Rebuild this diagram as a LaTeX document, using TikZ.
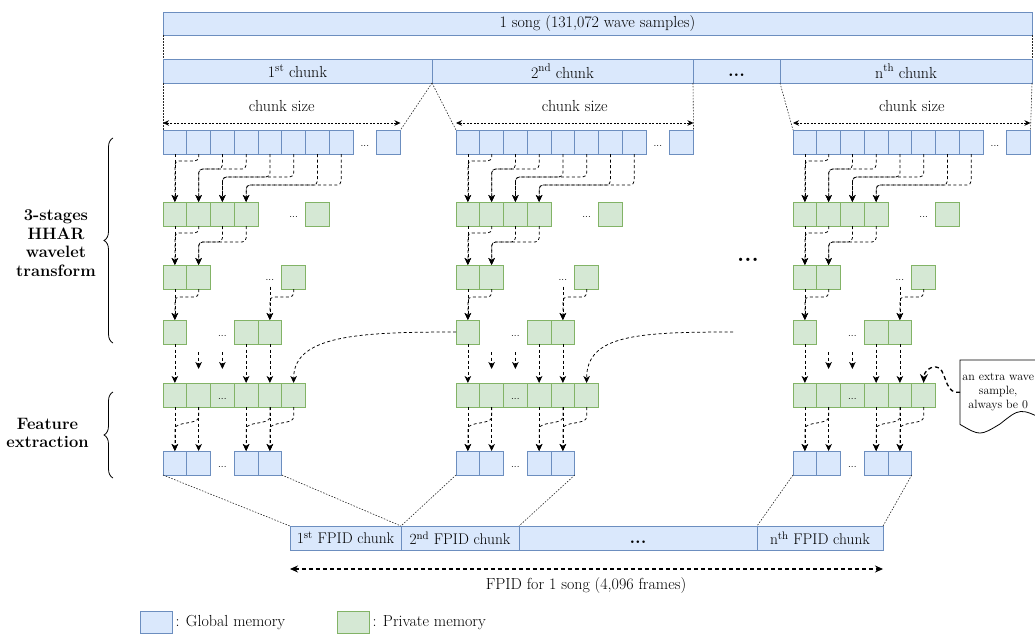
\documentclass[tikz,border=0pt]{standalone}
\usetikzlibrary{arrows.meta,calc,decorations.pathreplacing}
\definecolor{gfill}{HTML}{DAE8FC}
\definecolor{gline}{HTML}{6C8EBF}
\definecolor{pfill}{HTML}{D5E8D4}
\definecolor{pline}{HTML}{82B366}
\begin{document}
\begin{tikzpicture}[x=1pt,y=-1pt,
  every node/.style={font=\fontsize{16}{19}\selectfont},
  gbox/.style={draw=gline,fill=gfill,line width=0.8pt,minimum width=23.75pt,minimum height=24pt,inner sep=0pt,outer sep=0pt,anchor=north west},
  pbox/.style={gbox,draw=pline,fill=pfill},
  bar/.style={draw=gline,fill=gfill,line width=0.8pt,minimum height=23.5pt,inner sep=0pt,outer sep=0pt,anchor=north west},
  fbar/.style={bar,minimum height=24pt,font=\fontsize{15.5}{18}\selectfont},
  flow/.style={line width=0.75pt,dash pattern=on 3pt off 2.5pt,-{Stealth[length=7pt,width=6.5pt,inset=2pt]},rounded corners=4pt},
  guide/.style={draw=black!85,line width=0.6pt,dash pattern=on 1.5pt off 1.5pt},
  span/.style={line width=0.7pt,dash pattern=on 2pt off 1.5pt,{Stealth[length=6pt,width=5.5pt]}-{Stealth[length=6pt,width=5.5pt]}},
  sdots/.style={font=\fontsize{10}{10}\selectfont,inner sep=0pt},
  bdots/.style={font=\fontsize{18}{18}\selectfont\bfseries,inner sep=0pt},
  lab/.style={align=center,font=\fontsize{16.5}{18.5}\selectfont\bfseries},
]
\useasboundingbox (0,0) rectangle (1035,634);
\clip (0,0) rectangle (1035,634);

% top bars
\node[bar,minimum width=869pt] (song) at (163,12) {1 song (131,072 wave samples)};
\node[bar,minimum width=269pt] (ch1) at (163,59.5) {1\textsuperscript{st} chunk};
\node[bar,minimum width=261pt] (ch2) at (432,59.5) {2\textsuperscript{nd} chunk};
\node[bar,minimum width=87pt] (chd) at (693,59.5) {};
\node[bdots] (chdt) at ($(chd.center)+(0,4)$) {...};
\node[bar,minimum width=252pt] (chn) at (780,59.5) {n\textsuperscript{th} chunk};

% blocks
\foreach \ch/\xo in {1/163,2/456,3/793}{
  \foreach \kk in {0,...,7}{\node[gbox] (r1-\ch-\kk) at ({\xo+\kk*23.75},130) {};}
  \node[gbox] (r1-\ch-9) at ({\xo+9*23.75},130) {};
  \node[sdots] (r1-\ch-d) at ({\xo+8.5*23.75},146) {...};
  \foreach \kk in {0,...,3}{\node[pbox] (r2-\ch-\kk) at ({\xo+\kk*23.75},202) {};}
  \node[pbox] (r2-\ch-6) at ({\xo+6*23.75},202) {};
  \node[sdots] (r2-\ch-d) at ({\xo+5.5*23.75},217) {...};
  \foreach \kk in {0,1}{\node[pbox] (r3-\ch-\kk) at ({\xo+\kk*23.75},265) {};}
  \node[pbox] (r3-\ch-5) at ({\xo+5*23.75},265) {};
  \node[sdots] (r3-\ch-d) at ({\xo+4.5*23.75},280) {...};
  \node[pbox] (r4-\ch-0) at (\xo,320) {};
  \foreach \kk in {3,4}{\node[pbox] (r4-\ch-\kk) at ({\xo+\kk*23.75},320) {};}
  \node[sdots] (r4-\ch-d) at ({\xo+2.5*23.75},335.5) {...};
  \foreach \kk in {0,...,5}{\node[pbox] (r5-\ch-\kk) at ({\xo+\kk*23.75},383) {};}
  \node[sdots] (r5-\ch-d) at ({\xo+2.5*23.75},398.5) {...};
  \foreach \kk in {0,1,3,4}{\node[gbox] (r6-\ch-\kk) at ({\xo+\kk*23.75},451) {};}
  \node[sdots] (r6-\ch-d) at ({\xo+2.5*23.75},466.5) {...};

  % row1 -> row2
  \draw[flow] (r1-\ch-0.south) -- (r2-\ch-0.north);
  \draw[flow] (r1-\ch-1.south) -- ++(0,7) -| (r2-\ch-0.north);
  \foreach \tg/\dd in {1/15,2/23,3/31}{
    \pgfmathtruncatemacro\srcA{2*\tg}\pgfmathtruncatemacro\srcB{2*\tg+1}
    \draw[flow] (r1-\ch-\srcA.south) -- ++(0,\dd) -| (r2-\ch-\tg.north);
    \draw[flow] (r1-\ch-\srcB.south) -- ++(0,\dd) -| (r2-\ch-\tg.north);
  }
  % row2 -> row3
  \draw[flow] (r2-\ch-0.south) -- (r3-\ch-0.north);
  \draw[flow] (r2-\ch-1.south) -- ++(0,7) -| (r3-\ch-0.north);
  \draw[flow] (r2-\ch-2.south) -- ++(0,16) -| (r3-\ch-1.north);
  \draw[flow] (r2-\ch-3.south) -- ++(0,16) -| (r3-\ch-1.north);
  % row3 -> row4
  \draw[flow] (r3-\ch-0.south) -- (r4-\ch-0.north);
  \draw[flow] (r3-\ch-1.south) -- ++(0,8) -| (r4-\ch-0.north);
  \draw[flow,shorten <=6pt] (r3-\ch-d.south) -- (r4-\ch-4.north);
  \draw[flow] (r3-\ch-5.south) -- ++(0,8) -| (r4-\ch-4.north);
  % row4 -> row5
  \draw[flow] (r4-\ch-0.south) -- (r5-\ch-0.north);
  \draw[flow] (r4-\ch-3.south) -- (r5-\ch-3.north);
  \draw[flow] (r4-\ch-4.south) -- (r5-\ch-4.north);
  \foreach \kk in {1,2}{
    \coordinate (pa-\ch-\kk) at ([yshift=31pt]r5-\ch-\kk.north);
    \coordinate (pb-\ch-\kk) at ([yshift=14pt]r5-\ch-\kk.north);
    \draw[flow] (pa-\ch-\kk) -- (pb-\ch-\kk);
  }
  % row5 -> row6
  \foreach \kk in {0,1,3,4}{\draw[flow] (r5-\ch-\kk.south) -- (r6-\ch-\kk.north);}
  \foreach \srcA/\tg in {1/0,4/3,5/4}{
    \draw[flow] (r5-\ch-\srcA.south) -- ++(0,6)
      .. controls ($(r5-\ch-\srcA.south)+(0,18)$) and ($(r6-\ch-\tg.north)+(0,-30)$)
      .. ($(r6-\ch-\tg.north)+(0,-18)$) -- (r6-\ch-\tg.north);
  }
  % chunk size
  \coordinate (csa-\ch) at ([yshift=7pt]r1-\ch-0.north west);
  \coordinate (csb-\ch) at ([yshift=7pt]r1-\ch-9.north east);
  \draw[span] (csa-\ch) -- (csb-\ch);
  \node (csl-\ch) at ($(csa-\ch)!0.5!(csb-\ch)+(0,-17)$) {chunk size};
}

% cross-chunk curves
\draw[flow] (r4-2-0.west) .. controls ($(r4-2-0.west)+(-96,0)$) and ($(r5-1-5.north)+(0,-48)$) .. (r5-1-5.north);
\coordinate (x2) at (733,332);
\draw[flow] (x2) .. controls ($(x2)+(-96,0)$) and ($(r5-2-5.north)+(0,-48)$) .. (r5-2-5.north);

% top guides
\draw[guide] (song.south west) -- (ch1.north west);
\draw[guide] (song.south east) -- (chn.north east);
\draw[guide] (ch1.south west) -- (r1-1-0.north west);
\draw[guide] (ch1.south east) -- (r1-1-9.north east);
\draw[guide] (ch1.south east) -- (r1-2-0.north west);
\draw[guide] (ch2.south east) -- (r1-2-9.north east);
\draw[guide] (chn.south west) -- (r1-3-0.north west);
\draw[guide] (chn.south east) -- (r1-3-9.north east);

% middle dots
\node[font=\fontsize{23}{23}\selectfont\bfseries,inner sep=0pt] (mid) at (748,260) {...};

% FPID bar
\node[fbar,minimum width=111pt] (f1) at (290,526) {1\textsuperscript{st} FPID chunk};
\node[fbar,minimum width=118pt] (f2) at (401,526) {2\textsuperscript{nd} FPID chunk};
\node[fbar,minimum width=238pt] (fd) at (519,526) {};
\node[bdots] (fdt) at ($(fd.center)+(0,4)$) {...};
\node[fbar,minimum width=126pt] (fn) at (757,526) {n\textsuperscript{th} FPID chunk};

\draw[guide] (r6-1-0.south west) -- (f1.north west);
\draw[guide] (r6-1-4.south east) -- (f1.north east);
\draw[guide] (r6-2-0.south west) -- (f2.north west);
\draw[guide] (r6-2-4.south east) -- (f2.north east);
\draw[guide] (r6-3-0.south west) -- (fn.north west);
\draw[guide] (r6-3-4.south east) -- (fn.north east);

\coordinate (fa) at ([yshift=-19pt]f1.south west);
\coordinate (fb) at ([yshift=-19pt]fn.south east);
\draw[line width=1.1pt,dash pattern=on 4pt off 3pt,{Stealth[length=8pt,width=7pt]}-{Stealth[length=8pt,width=7pt]}] (fa) -- (fb);
\node (fl) at (586,585) {FPID for 1 song (4,096 frames)};

% left labels and braces
\node[lab] (lab1) at (56,243) {3-stages\\HHAR\\wavelet\\transform};
\node[lab] (lab2) at (47.5,433) {Feature\\extraction};
\draw[line width=0.8pt,decorate,decoration={brace,amplitude=9pt}] (113,343) -- (113,138);
\draw[line width=0.8pt,decorate,decoration={brace,amplitude=9pt}] (113,478) -- (113,392);

% callout
\node[font=\fontsize{12}{14}\selectfont,align=center,minimum width=76pt,minimum height=64pt,inner sep=0pt,anchor=north west] (note) at (960,360) {an extra wave\\sample,\\always be 0};
\draw[line width=0.8pt] (note.north west) -- (1045,360) -- (1045,420)
  .. controls (1020,408) .. (1000,424) .. controls (980,436) .. (note.south west) -- cycle;
\draw[line width=1.3pt,dash pattern=on 4pt off 3pt,-{Stealth[length=9pt,width=8pt]}] (note.west) -- ++(-4,0)
  .. controls (944,391) and (946,367) .. (936,367) .. controls (928,367) and (924,372) .. (r5-3-5.north);

% legend
\node[gbox,minimum width=32pt,minimum height=22pt] (lg) at (140,611) {};
\node[anchor=west] (lgt) at (172,623) {: Global memory};
\node[pbox,minimum width=32pt,minimum height=22pt] (lp) at (337,611) {};
\node[anchor=west] (lpt) at (369,623) {: Private memory};
\end{tikzpicture}
\end{document}
